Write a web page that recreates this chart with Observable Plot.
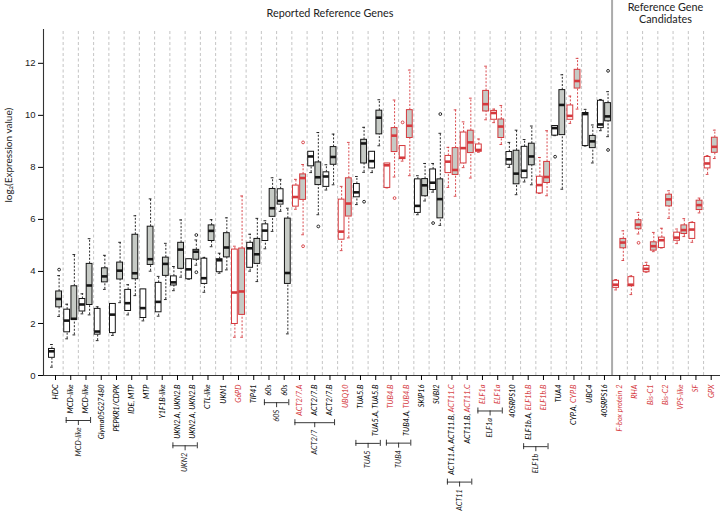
<!DOCTYPE html>
<html><head><meta charset="utf-8">
<script src="https://cdn.jsdelivr.net/npm/d3@7"></script>
<script src="https://cdn.jsdelivr.net/npm/@observablehq/plot@0.6"></script>
<style>
body{margin:0;background:#fff}
#chart svg{display:block}
g[aria-label="x-axis tick label"] text{font-style:italic;font-family:Lato,sans-serif;font-size:7.4px}
g[aria-label="y-axis tick label"]{font-family:"Liberation Sans",Arial,sans-serif;font-size:9.5px;fill:#222}
</style></head><body><div id="chart"></div><script>
// ---- data ----
const labelBlack = ["HDC","MCD-like","MCD-like","Glyma05G27480","PEPKR1/CDPK","IDE, MTP","MTP","Y1F1B-like","UKN2.A, UKN2.B","UKN2.A, UKN2.B","CTL-like","UKN1","","TIP41","60s","60s","","ACT2/7.B","ACT2/7.B","","TUA5.B","TUA5.A, TUA5.B","","TUB4.A, ","SKIP16","SUBI2","ACT11.A, ACT11.B, ","ACT11.B, ","","","40SRPS10","ELF1b.A, ","","TUA4","CYP.A, ","UBC4","40SRPS16","","","","","","",""];
const labelRed = ["","","","","","","","","","","","","G6PD","","","","ACT2/7.A","","","UBQ10","","","TUB4.B","TUB4.B","","","ACT11.C","ACT11.C","ELF1a","ELF1a","","ELF1b.B","ELF1b.B","","CYP.B","","","F-box protein 2","RHA","Bis-C1","Bis-C2","VPS-like","SF","GPX"];
const redBoxes = [0,0,0,0,0,0,0,0,0,0,0,0,1,0,0,0,1,0,0,1,0,0,1,1,0,0,1,1,1,1,0,0,1,0,1,0,0,1,1,1,1,1,1,1];

const whiteLow  = [0.32,1.41,2.37,1.34,1.54,2.33,2.10,2.28,3.26,3.70,3.20,3.93,1.47,4.01,4.87,6.31,6.39,7.80,7.13,4.80,6.57,7.80,7.21,8.24,6.18,7.05,7.23,7.99,8.58,9.72,8.00,7.44,7.00,9.22,9.69,8.82,9.41,3.29,3.11,3.97,4.90,5.07,5.12,7.73];
const whiteQ1   = [0.68,1.66,2.46,1.57,1.63,2.48,2.21,2.43,3.46,3.70,3.52,3.97,1.98,4.14,5.17,6.57,6.49,8.04,7.25,5.22,6.85,7.96,7.21,8.32,6.25,7.13,7.78,8.15,8.60,9.83,8.10,7.58,7.00,9.22,9.83,8.82,9.51,3.37,3.43,3.97,4.90,5.18,5.25,7.96];
const whiteMed  = [0.93,2.11,2.73,1.69,2.34,2.78,2.59,2.83,3.58,4.08,3.74,4.43,3.19,4.89,5.57,6.71,6.86,8.42,7.65,5.53,7.04,8.24,8.08,8.37,6.52,7.41,8.22,8.74,8.67,10.09,8.31,7.87,7.32,9.51,9.98,10.05,9.65,3.49,3.49,4.10,5.20,5.30,5.61,8.15];
const whiteQ3   = [1.02,2.53,2.94,2.56,2.75,3.29,3.31,3.56,3.81,4.47,4.49,4.47,4.84,5.10,5.81,7.16,7.30,8.60,7.81,6.76,7.36,8.60,8.15,8.82,7.54,7.92,8.44,9.34,8.88,10.17,8.59,8.79,7.64,9.59,10.38,10.09,10.56,3.64,3.78,4.21,5.30,5.49,5.86,8.40];
const whiteHigh = [1.19,2.74,3.14,2.64,2.75,3.49,3.31,3.81,4.19,4.47,4.54,4.70,4.97,5.43,5.95,7.54,7.54,8.60,8.10,7.27,7.65,8.60,8.15,8.82,7.68,8.15,8.77,9.75,9.09,10.24,8.96,9.07,8.38,9.59,10.74,10.23,10.61,3.69,3.83,4.35,5.66,5.63,5.90,8.45];

const grayLow  = [2.27,1.56,2.33,3.31,2.80,3.07,4.01,2.92,3.78,4.24,4.95,4.06,1.47,3.61,5.54,1.60,5.41,6.18,7.33,5.29,7.81,8.83,7.63,7.68,6.71,5.77,6.89,7.59,9.83,8.88,6.95,7.33,6.91,7.16,10.24,8.17,9.18,4.42,5.44,4.76,6.04,5.34,6.25,8.34];
const grayQ1   = [2.62,2.14,2.71,3.58,3.69,3.70,4.25,3.83,4.10,4.45,5.17,4.54,2.33,4.29,6.10,3.52,6.75,7.32,8.10,6.11,8.15,9.27,8.59,9.13,6.89,6.04,7.71,8.55,10.15,9.13,7.35,8.08,7.40,9.24,11.03,8.74,9.77,4.89,5.62,4.80,6.50,5.44,6.36,8.56];
const grayMed  = [2.94,2.18,3.46,3.81,4.03,3.93,4.47,4.29,4.84,4.76,5.56,4.92,3.23,4.66,6.43,3.94,7.59,7.62,8.40,6.61,8.92,9.91,9.22,9.60,7.31,6.78,7.90,8.96,10.43,9.57,7.76,8.42,7.63,10.40,11.32,9.00,9.96,5.11,5.80,4.97,6.77,5.59,6.55,8.79];
const grayQ3   = [3.23,3.43,4.29,4.12,4.34,5.41,5.72,4.53,5.10,4.83,5.77,5.47,4.88,5.25,7.17,6.03,7.73,8.19,8.78,7.58,9.06,10.18,9.51,10.20,7.55,7.54,8.74,9.41,10.94,9.84,8.64,8.91,8.21,10.97,11.75,9.21,10.47,5.25,5.97,5.12,6.95,5.77,6.72,9.14];
const grayHigh = [3.84,4.65,5.26,4.62,5.12,6.14,6.79,5.08,5.98,5.21,5.99,6.06,6.90,6.04,7.60,6.43,8.11,9.34,9.28,8.96,9.54,10.60,10.59,11.74,8.15,9.31,10.21,10.66,11.89,10.38,9.43,9.59,9.41,11.56,12.19,9.63,10.91,5.56,6.27,5.50,7.10,6.03,6.82,9.43];

const outlierSlot  = [1,10,10,17,17,18,21,23,24,26,26,34,37,37,39];
const outlierSide  = ["gray","gray","gray","gray","gray","gray","gray","gray","white","white","gray","white","gray","gray","gray"];
const outlierValue = [4.07,5.40,3.97,8.96,4.97,5.73,6.68,6.82,9.73,5.86,10.05,8.41,11.71,8.67,5.10];

const groupName  = ["MCD-like","UKN2","60S","ACT2/7","TUA5","TUB4","ACT11","ELF1a","ELF1b"];
const groupFirst = [2,9,15,17,21,23,27,29,32];
const groupLast  = [3,10,16,19,22,24,28,30,33];

const yTicks = [0,2,4,6,8,10,12];
const panelTitle = ["Reported Reference Genes","Reference Gene\nCandidates"];
const panelFirst = [1,38];
const panelLast  = [37,44];

// ---- layout ----
const W = 723, H = 515, mL = 43, mR = 3, mT = 29, mB = 140;
const yMax = 13.3, xMin = 0.213, xMax = 44.61;
const ppuY = (H - mT - mB) / yMax;
const RED = "#d5393d", INK = "#151515", GFILL = "#c6cac5";
const OFF = 0.236, HW = 0.19, CAP = 0.09;
const LABEL_PX = 7.4;
const slots = d3.range(1, 45);

const boxes = slots.flatMap((s, i) => [
  {x: s - OFF, fill: "white", red: redBoxes[i], lo: whiteLow[i], q1: whiteQ1[i], med: whiteMed[i], q3: whiteQ3[i], hi: whiteHigh[i]},
  {x: s + OFF, fill: GFILL, red: redBoxes[i], lo: grayLow[i], q1: grayQ1[i], med: grayMed[i], q3: grayQ3[i], hi: grayHigh[i]}
]);
const outliers = outlierSlot.map((s, k) => ({x: s + (outlierSide[k] === "white" ? -OFF : OFF), v: outlierValue[k], red: redBoxes[s - 1]}));
const col = d => d.red ? RED : INK;

const separators = d3.range(1.5, 44, 1).filter(v => v !== 37.5);
const dividerAt = (panelLast[0] + panelFirst[1]) / 2;

// group bracket depth from measured label lengths
const ctx = document.createElement("canvas").getContext("2d");
ctx.font = `italic ${LABEL_PX}px Lato`;
const labelW = slots.map(s => ctx.measureText(labelBlack[s-1] + labelRed[s-1]).width);
const groups = groupName.map((name, k) => {
  const a = groupFirst[k], b = groupLast[k];
  const w = d3.max(d3.range(a, b + 1), s => labelW[s-1]);
  const depth = 5 + 4 + w + 7;
  return {name, a: a - 0.3, b: b + 0.3, mid: (a + b) / 2, yb: -depth / ppuY};
});
const ends = groups.flatMap(g => [{x: g.a, yb: g.yb}, {x: g.b, yb: g.yb}]);

const titles = panelTitle.map((t, k) => ({t, x: (panelFirst[k] + panelLast[k]) / 2}));

const plot = Plot.plot({
  width: W, height: H, marginLeft: mL, marginRight: mR, marginTop: mT, marginBottom: mB,
  x: {domain: [xMin, xMax]},
  y: {domain: [0, yMax]},
  color: {type: "identity"},
  style: {fontFamily: "Lato, sans-serif", fontSize: "7px", background: "white", overflow: "visible"},
  marks: [
    Plot.ruleX(separators, {y1: 0, y2: yMax, stroke: "#bdbdbd", strokeDasharray: "3,2.5", strokeWidth: 0.9}),
    Plot.ruleX([dividerAt], {y1: 0, y2: yMax + mT / ppuY, stroke: "#ababab", strokeWidth: 2}),
    // whiskers
    Plot.ruleX(boxes, {x: "x", y1: "lo", y2: "q1", stroke: col, strokeDasharray: "2,1.6", strokeWidth: 0.9}),
    Plot.ruleX(boxes, {x: "x", y1: "q3", y2: "hi", stroke: col, strokeDasharray: "2,1.6", strokeWidth: 0.9}),
    Plot.ruleY(boxes, {y: "lo", x1: d => d.x - CAP, x2: d => d.x + CAP, stroke: col, strokeWidth: 0.9}),
    Plot.ruleY(boxes, {y: "hi", x1: d => d.x - CAP, x2: d => d.x + CAP, stroke: col, strokeWidth: 0.9}),
    // boxes
    Plot.rect(boxes, {x1: d => d.x - HW, x2: d => d.x + HW, y1: "q1", y2: "q3", fill: "fill", stroke: col, strokeWidth: 1}),
    Plot.ruleY(boxes, {y: "med", x1: d => d.x - HW, x2: d => d.x + HW, stroke: col, strokeWidth: 2.6}),
    Plot.dot(outliers, {x: "x", y: "v", r: 1.4, stroke: col, fill: "none", strokeWidth: 0.9}),
    // axes lines
    Plot.ruleY([0], {stroke: "#333", strokeWidth: 1.1}),
    Plot.ruleX([xMin], {stroke: "#333", strokeWidth: 1.1}),
    Plot.axisY(yTicks, {tickSize: 5, tickPadding: 3, label: null}),
    Plot.axisX(slots, {tickSize: 5, tickPadding: 4, tickRotate: -90, label: null,
      tickFormat: s => labelBlack[s-1] + labelRed[s-1]}),
    // y label
    Plot.text(["log\u2082(Expression value)"], {frameAnchor: "left", dx: -35, rotate: -90, fontSize: 10, fill: "#222"}),
    // titles
    Plot.text(titles, {x: "x", y: yMax, text: "t", dy: -16.5, fontSize: 10.8, lineHeight: 1.15, fill: "#222"}),
    // group brackets
    Plot.ruleY(groups, {y: "yb", x1: "a", x2: "b", stroke: "#222", strokeWidth: 0.9}),
    Plot.ruleX(ends, {x: "x", y1: d => d.yb + 3 / ppuY, y2: d => d.yb - 3 / ppuY, stroke: "#222", strokeWidth: 0.9}),
    Plot.ruleX(groups, {x: "mid", y1: "yb", y2: d => d.yb - 5 / ppuY, stroke: "#222", strokeWidth: 0.9}),
    Plot.text(groups, {x: "mid", y: d => d.yb - 7 / ppuY, text: "name", rotate: -90, textAnchor: "end",
      fontSize: LABEL_PX, fontStyle: "italic", fill: "#222"})
  ]
});

// colour the red parts of the tick labels
d3.select(plot).selectAll('g[aria-label="x-axis tick label"] text').each(function(d, j) {
  const t = d3.select(this);
  t.text(null);
  if (labelBlack[j]) t.append("tspan").text(labelBlack[j]);
  if (labelRed[j]) t.append("tspan").attr("fill", RED).text(labelRed[j]);
});

document.getElementById("chart").appendChild(plot);
</script></body></html>
